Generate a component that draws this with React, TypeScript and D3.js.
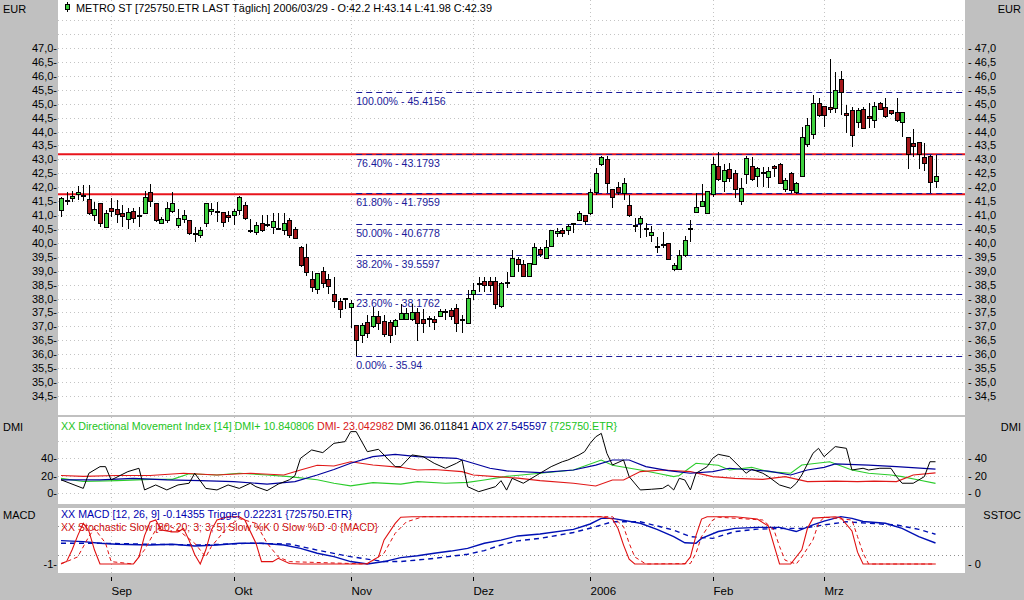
import * as d3 from "d3";
import { useEffect, useRef } from "react";

// months shown on the time axis and the index of the first trading day of each
const months = ["Sep", "Okt", "Nov", "Dez", "2006", "Feb", "Mrz"];
const monthStart = [9, 31, 52, 74, 95, 117, 137];

// daily OHLC, 2005-08-19 .. 2006-03-29
const open = [
  41.16, 41.5, 41.58, 41.75, 41.7, 41.56, 40.98, 41.42, 40.56, 41.24,
  41.2, 41.04, 40.85, 41.12, 40.97, 41.06, 41.8, 41.42, 40.7, 40.8,
  41.12, 40.61, 40.85, 40.8, 40.32, 40.25, 40.7, 41.12, 41.12, 41.08,
  40.97, 40.97, 41.18, 41.36, 40.45, 40.37, 40.68, 40.64, 40.56, 40.48,
  40.44, 40.82, 40.49, 39.84, 39.48, 38.69, 38.33, 38.97, 38.69, 38.13,
  37.89, 38.01, 37.69, 37.05, 36.69, 37.14, 37.01, 37.35, 37.19, 37.13,
  37.0, 37.25, 37.25, 37.23, 37.49, 37.25, 37.28, 37.23, 37.37, 37.52,
  37.57, 37.65, 37.25, 37.11, 38.16, 38.51, 38.61, 38.61, 38.61, 37.71,
  38.54, 38.81, 39.39, 39.21, 38.79, 39.24, 39.77, 39.45, 39.86, 40.34,
  40.46, 40.46, 40.69, 40.82, 40.97, 41.04, 41.8, 42.83, 43.0, 41.9,
  42.0, 41.78, 41.36, 40.62, 40.68, 40.53, 40.25, 39.88, 39.92, 39.98,
  39.06, 39.05, 39.53, 40.49, 41.09, 41.3, 41.06, 41.72, 42.76, 42.2,
  42.62, 42.5, 41.48, 42.47, 42.74, 42.38, 42.52, 42.35, 42.76, 42.83,
  41.9, 42.5, 41.8, 42.4, 43.55, 43.88, 44.99, 44.89, 44.87, 44.83,
  45.87, 44.65, 44.75, 44.32, 44.8, 44.55, 44.41, 45.01, 44.87, 44.74,
  44.68, 44.32, 43.79, 43.58, 43.6, 43.07, 43.12, 42.2,
];
const high = [
  41.64, 41.84, 41.88, 42.05, 42.08, 42.08, 41.46, 41.42, 41.18, 41.6,
  41.54, 41.36, 41.24, 41.24, 41.3, 41.88, 42.12, 41.44, 40.94, 41.48,
  41.84, 41.2, 41.18, 40.82, 40.56, 40.56, 41.44, 41.42, 41.48, 41.12,
  41.16, 41.2, 41.68, 41.48, 40.84, 40.76, 41.0, 41.0, 41.06, 41.06,
  41.06, 40.88, 40.56, 39.89, 39.96, 39.0, 38.9, 39.12, 38.9, 38.76,
  38.01, 38.01, 37.95, 37.05, 37.11, 37.41, 37.69, 37.57, 37.41, 37.23,
  37.25, 37.81, 37.65, 37.81, 37.65, 37.61, 37.37, 37.37, 37.61, 37.61,
  37.65, 37.8, 37.41, 38.31, 38.55, 38.79, 38.79, 38.79, 38.79, 38.61,
  38.97, 39.74, 39.5, 39.38, 39.29, 39.98, 39.86, 40.1, 40.46, 40.52,
  40.52, 40.68, 40.73, 41.16, 41.0, 41.92, 42.68, 43.12, 43.12, 41.9,
  42.2, 42.32, 41.72, 40.88, 40.97, 40.72, 40.61, 40.22, 40.4, 39.98,
  39.26, 39.74, 40.25, 40.82, 41.78, 42.12, 41.88, 43.1, 43.28, 42.83,
  42.86, 42.62, 42.32, 43.12, 43.07, 42.74, 42.74, 42.74, 42.8, 42.86,
  42.32, 42.56, 42.2, 44.15, 44.47, 45.31, 45.19, 44.89, 46.59, 46.15,
  46.19, 44.95, 44.89, 44.83, 44.88, 45.01, 45.07, 45.07, 45.19, 44.77,
  45.19, 44.71, 43.79, 44.08, 43.64, 43.58, 43.16, 43.14,
];
const low = [
  40.94, 41.36, 41.46, 41.54, 41.52, 41.0, 40.8, 40.56, 40.56, 40.92,
  40.7, 40.58, 40.49, 40.73, 40.56, 41.06, 41.3, 40.76, 40.7, 40.73,
  41.08, 40.52, 40.7, 40.28, 40.04, 40.16, 40.56, 41.0, 40.76, 40.56,
  40.76, 40.64, 41.0, 40.82, 40.37, 40.28, 40.4, 40.58, 40.32, 40.46,
  40.28, 40.16, 40.16, 39.15, 38.81, 38.25, 38.16, 38.37, 38.16, 37.65,
  37.29, 37.62, 36.93, 35.94, 36.39, 36.57, 36.93, 36.87, 36.63, 36.39,
  36.69, 37.23, 37.23, 37.21, 36.49, 36.75, 36.99, 36.87, 37.33, 37.23,
  37.23, 36.81, 36.75, 37.11, 37.95, 38.25, 38.25, 38.25, 37.61, 37.65,
  38.37, 38.79, 38.97, 38.79, 38.76, 39.21, 39.5, 39.41, 39.84, 40.22,
  40.22, 40.28, 40.34, 40.8, 40.64, 41.0, 41.72, 42.76, 41.78, 41.24,
  41.72, 41.54, 40.92, 40.4, 40.16, 40.22, 40.04, 39.63, 39.8, 39.41,
  39.0, 39.02, 39.5, 40.04, 41.06, 41.28, 41.06, 41.66, 42.23, 41.84,
  42.2, 41.6, 41.36, 42.11, 42.23, 42.02, 41.99, 41.96, 42.38, 42.11,
  41.84, 41.78, 41.76, 42.4, 43.43, 43.72, 44.53, 44.17, 44.65, 44.65,
  44.59, 43.94, 43.43, 44.11, 44.11, 44.11, 44.11, 44.77, 44.47, 44.59,
  44.35, 43.79, 42.64, 43.1, 42.64, 42.59, 41.78, 41.98,
];
const close = [
  41.6, 41.52, 41.68, 41.82, 41.66, 41.04, 41.2, 40.7, 41.04, 41.12,
  41.03, 40.94, 41.09, 40.88, 40.95, 41.64, 41.48, 40.82, 40.84, 41.24,
  41.42, 40.88, 41.0, 40.32, 40.34, 40.44, 41.4, 41.2, 41.14, 40.73,
  40.92, 41.12, 41.64, 40.88, 40.4, 40.64, 40.44, 40.66, 40.76, 40.5,
  40.68, 40.25, 40.16, 39.2, 38.93, 38.4, 38.9, 38.55, 38.43, 37.89,
  37.62, 37.95, 37.83, 36.51, 37.03, 36.75, 37.35, 37.09, 36.72, 36.69,
  37.21, 37.47, 37.47, 37.49, 37.11, 37.09, 37.3, 37.13, 37.53, 37.54,
  37.37, 37.11, 37.22, 38.01, 38.3, 38.53, 38.46, 38.46, 37.77, 38.55,
  38.56, 39.45, 39.24, 38.79, 39.27, 39.84, 39.6, 39.84, 40.44, 40.41,
  40.32, 40.58, 40.71, 41.06, 40.76, 41.8, 42.5, 43.07, 42.14, 41.64,
  41.82, 42.14, 41.0, 40.6, 40.88, 40.51, 40.37, 39.86, 39.93, 39.41,
  39.2, 39.53, 40.08, 40.5, 41.28, 41.48, 41.84, 42.83, 42.26, 42.59,
  42.32, 41.92, 41.96, 43.04, 42.26, 42.68, 42.53, 42.56, 42.68, 42.14,
  42.23, 41.88, 42.14, 43.79, 44.2, 45.01, 44.57, 44.56, 44.8, 45.49,
  45.4, 44.59, 43.87, 44.75, 44.11, 44.47, 44.89, 44.8, 44.53, 44.63,
  44.41, 44.68, 43.19, 43.46, 43.16, 42.86, 42.16, 42.39,
];

// Fibonacci retracement drawn from the November low
const fibPct = [100, 76.4, 61.8, 50, 38.2, 23.6, 0];
const fibVal = [45.4156, 43.1793, 41.7959, 40.6778, 39.5597, 38.1762, 35.94];
const fibFrom = 53;
const redLines = [43.18, 41.745];

const priceTicks = [47, 46.5, 46, 45.5, 45, 44.5, 44, 43.5, 43, 42.5, 42, 41.5, 41, 40.5, 40, 39.5, 39, 38.5, 38, 37.5, 37, 36.5, 36, 35.5, 35, 34.5];
const dmiTicks = [40, 20, 0];

// indicator readings as [day index, value]
const dmiPlus: [number, number][] = [
  [0, 16.7], [4, 13], [10, 14], [16, 15.5], [20, 15.5], [23, 22], [28, 20.6], [32, 22.6], [37, 20.6], [41, 18.7],
  [46, 15], [49, 11], [52, 8], [56, 11.7], [61, 10], [64, 12.9], [69, 11], [73, 12], [76, 14.8], [80, 19],
  [86, 22.6], [92, 26.4], [97, 38], [99, 32], [104, 26.4], [107, 22.6], [110, 18.7], [111, 20], [114, 34.2], [118, 32],
  [120, 26.4], [124, 29.5], [127, 24.5], [131, 22.6], [133, 32.2], [138, 36], [142, 26.4], [145, 22.6], [149, 20.6], [151, 18.7],
  [154, 14.8], [157, 10.8],
];
const dmiMinus: [number, number][] = [
  [0, 20], [4, 19], [10, 20], [16, 20], [22, 22.6], [28, 20.6], [34, 22.6], [40, 20.6], [43, 26.4], [46, 32],
  [49, 31], [52, 36], [56, 32.2], [61, 29.5], [64, 26.4], [67, 27], [72, 24.5], [74, 20.6], [78, 18.7], [82, 17],
  [86, 14], [92, 11], [96, 7.8], [99, 14.8], [101, 14.8], [104, 24.5], [108, 26.4], [113, 24.5], [117, 18.7], [121, 16.7],
  [126, 15.5], [130, 18.7], [134, 12.9], [139, 13.5], [143, 12.9], [146, 13.5], [150, 12.9], [153, 20.6], [157, 23],
];
const adx: [number, number][] = [
  [0, 14.8], [7, 14.8], [13, 16.7], [19, 14.8], [25, 14], [31, 12.9], [37, 10], [42, 12.9], [46, 20.6], [49, 27],
  [52, 34.2], [56, 41.9], [60, 44.6], [64, 41.9], [67, 41], [71, 40], [74, 34.2], [77, 28.4], [80, 25.3], [86, 23.3],
  [92, 26.4], [96, 32], [99, 38], [102, 38], [105, 30.3], [109, 25.7], [113, 22.6], [117, 24.5], [120, 28.4], [124, 26.4],
  [127, 25], [131, 20.6], [134, 26.4], [137, 29.5], [139, 33.4], [145, 32], [150, 30.3], [157, 27.5],
];
const dmi: [number, number][] = [
  [0, 15], [4, 5], [5, 22.6], [7, 30.3], [8, 30.3], [9, 14.8], [12, 24.5], [14, 28.4], [15, 3.2], [17, 9],
  [19, 3.2], [21, 9], [23, 11], [24, 22.6], [26, 5], [28, 3.2], [30, 9], [32, 5], [34, 11], [35, 7],
  [37, 2.4], [39, 10], [41, 15], [42, 19.8], [43, 40], [45, 49.7], [47, 46.6], [49, 57.4], [51, 59.4], [52, 71],
  [53, 71], [55, 47.7], [57, 50.5], [60, 30.3], [61, 30.3], [63, 43.9], [65, 42], [67, 34.2], [69, 28.4], [71, 34.2],
  [72, 38], [73, 7], [75, 1.2], [78, 7], [79, 14], [80, 3], [81, 16.7], [83, 11], [86, 22.6], [88, 30.3],
  [90, 36], [91, 38], [93, 43.9], [94, 47.7], [95, 57.4], [96, 65], [97, 69], [98, 45.8], [99, 32.2], [101, 38],
  [102, 18.7], [104, 3.2], [106, 4], [108, 5], [109, 9], [110, 3.2], [111, 16.7], [112, 14.8], [113, 3.2], [114, 22.6],
  [116, 30.3], [117, 40], [118, 44.6], [120, 42], [123, 22.6], [124, 27.2], [126, 22.6], [127, 18.7], [129, 9], [131, 5.1],
  [132, 10.9], [133, 20.6], [135, 45.8], [136, 51.6], [137, 41.9], [139, 53.6], [141, 51.6], [142, 26.4], [144, 28.4], [145, 26.4],
  [147, 28.4], [149, 28.4], [150, 18.7], [151, 11], [153, 11], [155, 18.7], [156, 36], [157, 36],
];
const macd: [number, number][] = [
  [0, -0.04], [4, -0.085], [7, -0.15], [10, -0.19], [16, -0.22], [20, -0.19], [24, -0.26], [28, -0.22], [32, -0.15], [36, -0.15],
  [40, -0.22], [43, -0.36], [46, -0.56], [49, -0.7], [52, -0.9], [55, -1.0], [58, -0.9], [61, -0.74], [64, -0.66], [67, -0.56],
  [70, -0.47], [73, -0.36], [76, -0.15], [79, -0.02], [82, 0.15], [86, 0.23], [92, 0.42], [95, 0.64], [97, 0.87], [99, 0.87],
  [104, 0.67], [107, 0.42], [110, 0.12], [112, -0.13], [114, -0.15], [115, 0.05], [118, 0.33], [121, 0.46], [125, 0.5], [129, 0.5],
  [132, 0.33], [135, 0.6], [137, 0.76], [140, 0.94], [142, 0.87], [144, 0.74], [148, 0.67], [151, 0.46], [154, 0.12], [157, -0.14],
];
const trigger: [number, number][] = [
  [0, -0.15], [7, -0.15], [16, -0.19], [25, -0.22], [34, -0.15], [41, -0.18], [46, -0.43], [52, -0.7], [58, -0.9], [61, -0.9],
  [67, -0.77], [73, -0.6], [76, -0.45], [79, -0.22], [82, -0.05], [86, 0.05], [92, 0.29], [96, 0.53], [99, 0.73], [104, 0.73],
  [107, 0.56], [110, 0.39], [113, 0.12], [117, 0.05], [121, 0.33], [125, 0.43], [130, 0.46], [133, 0.46], [137, 0.6], [141, 0.73],
  [145, 0.67], [150, 0.6], [154, 0.42], [157, 0.22],
];
const stochK: [number, number][] = [
  [0, 1], [1, 5], [2, 30], [3, 60], [4, 86], [5, 70], [6, 30], [7, 0], [13, 0], [14, 15],
  [15, 60], [16, 89], [17, 93], [18, 72], [20, 68], [21, 68], [22, 75], [23, 50], [24, 20], [25, 0],
  [26, 30], [27, 72], [28, 93], [30, 100], [32, 100], [33, 93], [35, 44], [36, 5], [38, 5], [39, 12],
  [41, 1], [43, 0], [54, 0], [55, 1], [57, 15], [58, 51], [60, 86], [61, 99], [63, 100], [97, 100],
  [99, 95], [100, 75], [101, 40], [102, 10], [103, 0], [112, 0], [113, 15], [114, 60], [115, 95], [116, 100],
  [121, 100], [125, 95], [127, 80], [128, 40], [129, 0], [131, 0], [133, 30], [134, 75], [135, 97], [139, 100],
  [140, 98], [142, 70], [143, 25], [144, 0], [157, 0],
];
const stochD: [number, number][] = [
  [0, 0], [3, 15], [5, 58], [6, 75], [8, 44], [9, 5], [13, 0], [15, 30], [17, 72], [19, 82],
  [21, 72], [24, 44], [26, 15], [27, 37], [30, 79], [32, 96], [35, 86], [37, 44], [39, 15], [41, 5],
  [55, 0], [58, 23], [60, 65], [62, 89], [65, 100], [99, 100], [101, 79], [102, 44], [103, 15], [105, 0],
  [113, 1], [114, 23], [115, 58], [117, 93], [118, 99], [126, 93], [128, 72], [129, 37], [130, 8], [132, 0],
  [133, 15], [135, 51], [136, 86], [137, 99], [142, 93], [143, 58], [144, 23], [145, 0], [157, 0],
];

const title = "METRO ST [725750.ETR LAST Täglich] 2006/03/29 - O:42.2 H:43.14 L:41.98 C:42.39";

export default function App() {
  const ref = useRef<SVGSVGElement>(null);

  useEffect(() => {
    const svg = d3.select(ref.current);
    svg.selectAll("*").remove();

    const W = 1024;
    const H = 600;
    const L = 58;
    const R = 965;
    svg
      .attr("width", W)
      .attr("height", H)
      .style("font-family", "'Liberation Sans', Arial, sans-serif")
      .style("font-size", "11px");

    svg.append("rect").attr("width", W).attr("height", H).attr("fill", "#c0c0c0");

    const panels = [
      { top: 0, bottom: 415 },
      { top: 417, bottom: 504 },
      { top: 508, bottom: 573 },
    ];
    panels.forEach((p) =>
      svg
        .append("rect")
        .attr("x", L)
        .attr("y", p.top)
        .attr("width", R - L)
        .attr("height", p.bottom - p.top)
        .attr("fill", "#fff")
    );

    const n = close.length;
    const x = d3.scaleLinear().domain([0, n - 1]).range([61, 935.5]);
    const y = d3.scaleLinear().domain([34.5, 47]).range([396, 48]);
    const yDmi = d3.scaleLinear().domain([0, 40]).range([492.7, 458.3]);
    const yMacd = d3.scaleLinear().domain([-1, 0]).range([564, 539.6]);
    const yStoch = d3.scaleLinear().domain([0, 100]).range([564, 516.7]);

    const dot = (sel) =>
      sel.attr("stroke", "#c4c4c4").attr("stroke-width", 1).attr("stroke-dasharray", "1,3");

    // grid
    const grid = svg.append("g").attr("shape-rendering", "crispEdges");
    d3.range(34.5, 48.01, 0.5).forEach((v) =>
      grid.append("line").attr("x1", L).attr("x2", R).attr("y1", Math.round(y(v)) + 0.5).attr("y2", Math.round(y(v)) + 0.5).call(dot)
    );
    [0, 20, 40, 60].forEach((v) =>
      grid.append("line").attr("x1", L).attr("x2", R).attr("y1", Math.round(yDmi(v)) + 0.5).attr("y2", Math.round(yDmi(v)) + 0.5).call(dot)
    );
    [80, 20].forEach((v) =>
      grid
        .append("line")
        .attr("x1", L)
        .attr("x2", R)
        .attr("y1", Math.round(yStoch(v)) + 0.5)
        .attr("y2", Math.round(yStoch(v)) + 0.5)
        .call(dot)
        .attr("stroke", "#909090")
    );
    monthStart.forEach((m) =>
      panels.forEach((p) =>
        grid
          .append("line")
          .attr("x1", Math.round(x(m)) + 0.5)
          .attr("x2", Math.round(x(m)) + 0.5)
          .attr("y1", p.top)
          .attr("y2", p.bottom)
          .call(dot)
      )
    );

    // support lines
    redLines.forEach((v) =>
      svg.append("line").attr("x1", L).attr("x2", R).attr("y1", y(v)).attr("y2", y(v)).attr("stroke", "#e8141c").attr("stroke-width", 2)
    );

    // fibonacci levels
    const fx = x(fibFrom);
    fibVal.forEach((v, k) => {
      svg
        .append("line")
        .attr("x1", fx)
        .attr("x2", R)
        .attr("y1", Math.round(y(v)) + 0.5)
        .attr("y2", Math.round(y(v)) + 0.5)
        .attr("stroke", "#1a1a9a")
        .attr("stroke-dasharray", "6,4");
      svg
        .append("text")
        .attr("x", fx)
        .attr("y", y(v) + 13)
        .attr("fill", "#1a1a9a")
        .attr("font-size", "10.6px")
        .text(`${fibPct[k].toFixed(2)}% - ${v}`);
    });

    // candles
    const cg = svg.append("g").attr("shape-rendering", "crispEdges");
    d3.range(n).forEach((i) => {
      const cx = Math.round(x(i)) + 0.5;
      cg.append("line").attr("x1", cx).attr("x2", cx).attr("y1", y(high[i])).attr("y2", y(low[i])).attr("stroke", "#000");
      const top = y(Math.max(open[i], close[i]));
      const h = Math.max(1, y(Math.min(open[i], close[i])) - top);
      cg.append("rect")
        .attr("x", cx - 2)
        .attr("y", top)
        .attr("width", 4)
        .attr("height", h)
        .attr("fill", close[i] >= open[i] ? "#3fd13f" : "#a3161a")
        .attr("stroke", "#000")
        .attr("stroke-width", 1);
    });

    // indicator lines
    const line = (yy) =>
      d3
        .line<[number, number]>()
        .x((d) => x(d[0]))
        .y((d) => yy(d[1]));
    const plot = (data, yy, color, w, dash?) =>
      svg
        .append("path")
        .attr("d", line(yy)(data))
        .attr("fill", "none")
        .attr("stroke", color)
        .attr("stroke-width", w)
        .attr("stroke-dasharray", dash || null);

    plot(dmiPlus, yDmi, "#2ccc2c", 1.1);
    plot(dmiMinus, yDmi, "#e01818", 1.1);
    plot(adx, yDmi, "#00009c", 1.2);
    plot(dmi, yDmi, "#000", 1);

    plot(macd, yMacd, "#0010b4", 1.4);
    plot(trigger, yMacd, "#0010b4", 1.4, "5,4");
    plot(stochD, yStoch, "#e01010", 1, "4,3");
    plot(stochK, yStoch, "#e01010", 1.1);

    // axis texts
    priceTicks.forEach((v) => {
      const lbl = v.toFixed(1).replace(".", ",");
      svg.append("text").attr("x", 57).attr("y", y(v) + 4).attr("text-anchor", "end").text(`${lbl}-`);
      svg.append("text").attr("x", 968).attr("y", y(v) + 4).text(`- ${lbl}`);
    });
    dmiTicks.forEach((v) => {
      svg.append("text").attr("x", 57).attr("y", yDmi(v) + 4).attr("text-anchor", "end").text(`${v}-`);
      svg.append("text").attr("x", 968).attr("y", yDmi(v) + 4).text(`- ${v}`);
    });
    svg.append("text").attr("x", 57).attr("y", yMacd(-1) + 4).attr("text-anchor", "end").text("-1-");
    svg.append("text").attr("x", 968).attr("y", yStoch(0) + 4).text("- 0");

    svg.append("text").attr("x", 3).attr("y", 13).text("EUR");
    svg.append("text").attr("x", 1021).attr("y", 13).attr("text-anchor", "end").text("EUR");
    svg.append("text").attr("x", 3).attr("y", 431).text("DMI");
    svg.append("text").attr("x", 1021).attr("y", 431).attr("text-anchor", "end").text("DMI");
    svg.append("text").attr("x", 3).attr("y", 519).text("MACD");
    svg.append("text").attr("x", 1021).attr("y", 519).attr("text-anchor", "end").text("SSTOC");

    // time axis
    monthStart.forEach((m, k) => {
      const mx = Math.round(x(m)) + 0.5;
      svg.append("line").attr("x1", mx).attr("x2", mx).attr("y1", 577).attr("y2", 581).attr("stroke", "#000");
      svg.append("text").attr("x", mx).attr("y", 595).attr("font-size", "11.5px").text(months[k]);
    });

    // header
    const ic = svg.append("g").attr("shape-rendering", "crispEdges");
    ic.append("line").attr("x1", 67.5).attr("x2", 67.5).attr("y1", 2).attr("y2", 12).attr("stroke", "#000");
    ic.append("rect").attr("x", 65.5).attr("y", 4.5).attr("width", 4).attr("height", 5).attr("fill", "#3fd13f").attr("stroke", "#000");
    svg.append("text").attr("x", 76).attr("y", 12).attr("font-size", "11px")
      .attr("textLength", 416).attr("lengthAdjust", "spacingAndGlyphs").text(title);

    const dmiText = svg.append("text").attr("x", 61).attr("y", 430).attr("font-size", "11px")
      .attr("textLength", 556).attr("lengthAdjust", "spacingAndGlyphs");
    dmiText.append("tspan").attr("fill", "#22c422").text("XX Directional Movement Index [14] DMI+ 10.840806");
    dmiText.append("tspan").attr("fill", "#d81818").text(" DMI- 23.042982");
    dmiText.append("tspan").attr("fill", "#000").text(" DMI 36.011841");
    dmiText.append("tspan").attr("fill", "#0000a0").text(" ADX 27.545597");
    dmiText.append("tspan").attr("fill", "#22c422").text(" {725750.ETR}");

    svg.append("text").attr("x", 61).attr("y", 518).attr("font-size", "11px").attr("fill", "#0000b0")
      .attr("textLength", 291).attr("lengthAdjust", "spacingAndGlyphs")
      .text("XX MACD [12, 26, 9] -0.14355 Trigger 0.22231 {725750.ETR}");
    svg.append("text").attr("x", 61).attr("y", 531).attr("font-size", "11px").attr("fill", "#d01010")
      .attr("textLength", 317).attr("lengthAdjust", "spacingAndGlyphs")
      .text("XX Stochastic Slow [80; 20; 3; 3; 5] Slow %K 0 Slow %D -0 {MACD}");
  }, []);

  return (
    <div style={{ position: "absolute", left: 0, top: 0 }}>
      <svg ref={ref} />
    </div>
  );
}
